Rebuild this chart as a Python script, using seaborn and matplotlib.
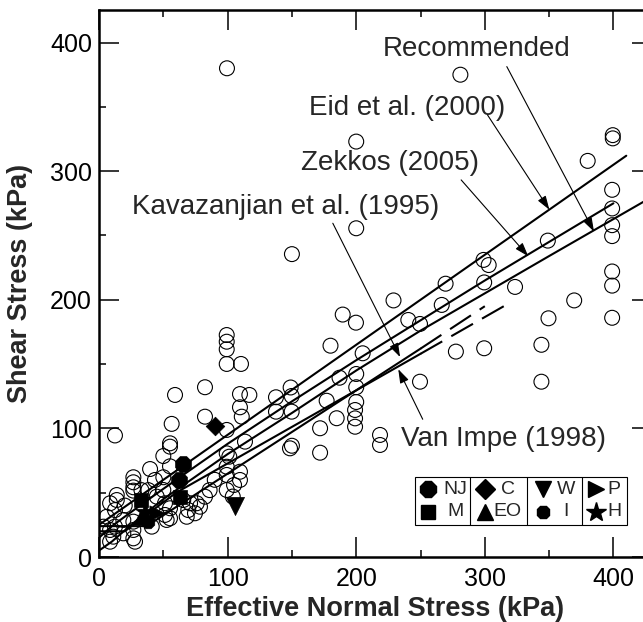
import matplotlib
matplotlib.use("Agg")
import matplotlib.pyplot as plt
import seaborn as sns
import pandas as pd
from matplotlib.patches import Rectangle, ArrowStyle
from matplotlib.ticker import MultipleLocator

# ---------------- data ----------------
circle_x = [99.5, 281, 200, 399.5, 399.5, 380, 399, 399, 399, 399, 399, 399, 399,
            200, 150, 349, 323.5, 299, 303, 299.5, 269.5, 266.5, 229, 369.5, 349.5,
            344, 344, 299.5, 277.5, 249.6, 240.5, 249.6, 189.5, 199.8, 180, 205, 187,
            200, 200, 177, 200, 149, 99.3, 99.3, 99.3, 99.3, 110.4, 82.4, 109.6, 116.9,
            109.6, 111, 137.6, 149.8, 137.6, 149.8, 82.4, 99.3, 113.5, 99.3, 101.3, 99.3,
            99.3, 109.6, 109.6, 99.3, 82.4, 76, 148.5, 150, 171.9, 184.8, 171.9, 199.1,
            199.1, 199.1, 218.5, 218.5, 59.1, 12.4, 56.5, 55.2, 55.2, 50, 39.7, 55.2, 50,
            26.7, 26.7, 26.7, 26.7, 13.8, 13.8, 38.3, 44.9, 51.3, 65.5, 69.4, 68.2, 78.5,
            74.6, 51.3, 55.2, 8.6, 12.4, 6, 3.4, 8.6, 18.9, 26.7, 26.7, 11.1, 26.7, 8.6,
            28, 18.9, 41, 70.8, 55.2, 52.6, 12.4, 43.5, 50, 104, 105, 20, 33, 90, 86]
circle_y = [380, 375, 323, 328, 325.5, 308, 285.5, 271, 258, 249.5, 222, 211, 186,
            255.6, 235.5, 246, 210, 231, 227, 213.5, 212.5, 196, 199.5, 199.5, 185.6,
            165, 136.3, 162.3, 159.7, 136.3, 184.3, 181.2, 188.5, 182.2, 164.3, 158.4, 139.4,
            142.3, 132, 121.5, 120.5, 131.8, 172.6, 167.4, 161.5, 150.1, 150.1, 132, 126.7, 126,
            116.4, 109.1, 124.2, 125.2, 113, 113, 109.1, 98.8, 89.7, 80.6, 78, 70.2,
            63.8, 66.3, 59.9, 52.1, 46.9, 41.8, 84.5, 86.5, 100.1, 107.9, 81.1, 114.3,
            107.8, 101.3, 94.9, 87.1, 126, 94.5, 103.5, 88.4, 85.8, 78.5, 68.4, 70.5, 62,
            62, 58.1, 54.2, 51.6, 48.2, 44.3, 52, 46.9, 41.8, 44.3, 36.5, 31.3, 39.1,
            34, 32.7, 30.1, 41.8, 36.5, 31.3, 23.6, 21, 28.8, 27.5, 21, 15.8, 14.5, 11.9,
            11.9, 18.4, 23.6, 41.8, 37.9, 28.8, 23.6, 59.9, 52.1, 47, 56, 40, 52, 60, 52]

site_labels = ["NJ", "NJ", "M", "M", "C", "EO", "W", "I", "P", "H"]
site_x = [65, 62, 33, 63, 90, 33, 106, 38, 45, 36]
site_y = [72, 60, 44, 47, 102, 31, 40, 27.5, 34, 35]

legend_order = [["NJ", "M"], ["C", "EO"], ["W", "I"], ["P", "H"]]

eid_x = [0, 410]
eid_y = [25, 312]
zekkos_x = [0, 10, 25, 50, 100, 150, 200, 250, 300, 350, 400]
zekkos_y = [15, 24, 35, 53, 88, 121, 153, 184, 215, 245, 275]
recommended_x = [0, 10, 25, 50, 100, 150, 200, 250, 300, 350, 430]
recommended_y = [5, 12, 25, 45, 80, 112, 145, 176, 205, 234, 280]
kav_x = [0, 37, 250]
kav_y = [24, 24, 162]
kav_ext_x = [250, 300]
kav_ext_y = [162, 195]
vanimpe_x = [0, 20, 60, 250]
vanimpe_y = [20, 20, 50, 158]
vanimpe_ext_x = [250, 320]
vanimpe_ext_y = [158, 198]

# annotation: label, text position, arrow start, arrow tip (data units)
ann_labels = ["Recommended", "Eid et al. (2000)", "Zekkos (2005)",
              "Kavazanjian et al. (1995)", "Van Impe (1998)"]
ann_text_xy = [(293.5, 395), (239.5, 349.5), (226, 306), (145, 272), (314.5, 91.8)]
ann_start_xy = [(317.1, 381.3), (302.1, 343.7), (281.6, 293.2), (181.8, 259.5), (251.7, 107.1)]
ann_tip_xy = [(384.9, 253.0), (350.2, 270.0), (333.8, 233.8), (234.1, 155.5), (232.7, 146.0)]

x_ticks = [0, 100, 200, 300, 400]
y_ticks = [0, 100, 200, 300, 400]

# ---------------- style ----------------
sns.set_style("ticks")
plt.rcParams['font.family'] = ['Liberation Sans', 'DejaVu Sans']

fig = plt.figure(figsize=(6.43, 6.22), dpi=100)
ax = fig.add_axes([0.154, 0.1045, 0.860, 0.8794])

# envelopes
env_kw = dict(color="black", linewidth=1.5, sort=False, estimator=None, ax=ax, legend=False)
sns.lineplot(x=eid_x, y=eid_y, **env_kw)
sns.lineplot(x=zekkos_x, y=zekkos_y, **env_kw)
sns.lineplot(x=recommended_x, y=recommended_y, **env_kw)
sns.lineplot(x=kav_x, y=kav_y, **env_kw)
sns.lineplot(x=vanimpe_x, y=vanimpe_y, **env_kw)
for xs, ys in [(kav_ext_x, kav_ext_y), (vanimpe_ext_x, vanimpe_ext_y)]:
    l = sns.lineplot(x=xs, y=ys, **env_kw)
    l.lines[-1].set_dashes([12, 5])

# open circles
df_c = pd.DataFrame({"x": circle_x, "y": circle_y})
sns.scatterplot(data=df_c, x="x", y="y", marker="o", s=115, facecolor="none",
                edgecolor="black", linewidth=0.8, ax=ax, legend=False, zorder=3)

# filled site markers
marker_map = {"NJ": "8", "M": "s", "C": "D", "EO": "^", "W": "v", "I": "8", "P": ">", "H": "*"}
size_map = {"NJ": 150, "M": 95, "C": 90, "EO": 120, "W": 170, "I": 95, "P": 120, "H": 230}
df_s = pd.DataFrame({"x": site_x, "y": site_y, "site": site_labels})
for site, grp in df_s.groupby("site"):
    sns.scatterplot(data=grp, x="x", y="y", marker=marker_map[site], s=size_map[site],
                    color="black", edgecolor="black", linewidth=0.5, ax=ax,
                    legend=False, zorder=4)

# annotations
astyle = ArrowStyle("-|>", head_length=0.6, head_width=0.2)
for lab, txy, sxy, pxy in zip(ann_labels, ann_text_xy, ann_start_xy, ann_tip_xy):
    ax.text(txy[0], txy[1], lab, fontsize=20, ha="center", va="center", zorder=6)
    ax.annotate("", xy=pxy, xytext=sxy,
                arrowprops=dict(arrowstyle=astyle, color="black", lw=0.8,
                                mutation_scale=14, shrinkA=0, shrinkB=0), zorder=6)

# axes
ax.set_xlim(0, 430)
ax.set_ylim(0, 425.3)
ax.set_xticks(x_ticks)
ax.set_yticks(y_ticks)
ax.xaxis.set_minor_locator(MultipleLocator(50))
ax.yaxis.set_minor_locator(MultipleLocator(50))
ax.tick_params(which="both", direction="in", top=True, right=True, width=1.1, colors="black")
ax.tick_params(which="major", length=14.4, labelsize=18)
ax.tick_params(which="minor", length=5)
ax.tick_params(axis="x", which="major", pad=7)
ax.tick_params(axis="y", which="major", pad=5)
for sp in ax.spines.values():
    sp.set_linewidth(1.8)
    sp.set_color("black")
    sp.set_visible(True)

ax.set_xlabel("Effective Normal Stress (kPa)", fontsize=19.5, fontweight="bold")
ax.set_ylabel("Shear Stress (kPa)", fontsize=19.5, fontweight="bold")
ax.xaxis.set_label_coords(0.5, -0.071)
ax.yaxis.set_label_coords(-0.119, 0.5)

# legend box (site symbols)
box_l, box_r, box_b, box_t = 0.5714, 0.9542, 0.0585, 0.1468
ax.add_patch(Rectangle((box_l, box_b), box_r - box_l, box_t - box_b, transform=ax.transAxes,
                       facecolor="white", edgecolor="black", linewidth=0.8, zorder=7))
for xd in [0.6709, 0.7745, 0.8740]:
    ax.plot([xd, xd], [box_b, box_t], transform=ax.transAxes, color="black", lw=0.8, zorder=8)
col_marker_x = [0.5955, 0.6980, 0.8020, 0.8990]
col_text_x = [0.6438, 0.7390, 0.8440, 0.9315]
row_y = [0.1238, 0.0828]
leg_size = {"NJ": 12, "M": 9.5, "C": 10, "EO": 11, "W": 11.5, "I": 9.5, "P": 11, "H": 15}
for ci, col in enumerate(legend_order):
    for ri, site in enumerate(col):
        ax.plot([col_marker_x[ci]], [row_y[ri]], marker=marker_map[site], color="black",
                markersize=leg_size[site], transform=ax.transAxes, zorder=9, linestyle="none")
        ax.text(col_text_x[ci], row_y[ri], site, transform=ax.transAxes, fontsize=14,
                ha="center", va="center", zorder=9)

fig.savefig("out.png", dpi=100)
